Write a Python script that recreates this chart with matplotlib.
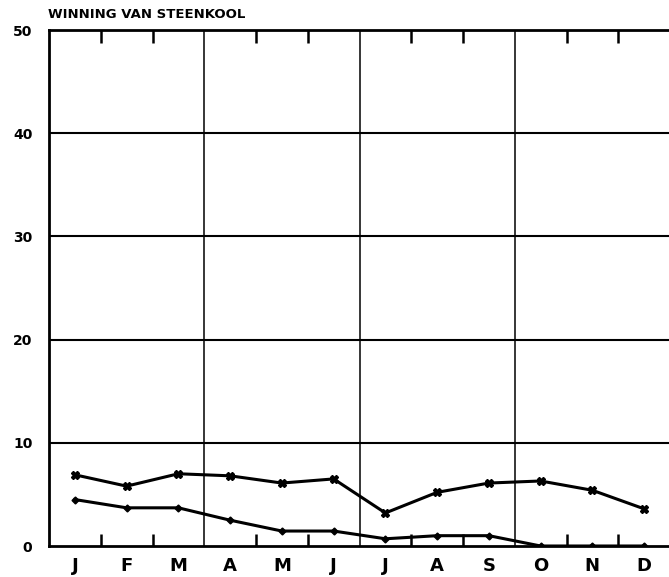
import matplotlib
matplotlib.use('Agg')
import matplotlib.pyplot as plt
import numpy as np

months = ['J', 'F', 'M', 'A', 'M', 'J', 'J', 'A', 'S', 'O', 'N', 'D']
upper = [6.9, 5.8, 7.0, 6.8, 6.1, 6.5, 3.2, 5.2, 6.1, 6.3, 5.4, 3.6]
lower = [4.5, 3.7, 3.7, 2.5, 1.45, 1.45, 0.7, 1.0, 1.0, 0.0, 0.0, 0.0]
y_ticks = [0, 10, 20, 30, 40, 50]
title = 'WINNING VAN STEENKOOL'

fig = plt.figure(figsize=(6.69, 5.77), dpi=100)
ax = fig.add_axes([49 / 669, 31 / 577, 621 / 669, 516 / 577])

x = np.arange(len(months))
ax.plot(x, upper, color='black', linewidth=2.2, marker='X', markersize=6)
ax.plot(x, lower, color='black', linewidth=2.2, marker='D', markersize=3.5)

ax.set_xlim(-0.5, 11.5)
ax.set_ylim(0, 50)

for yv in y_ticks[1:-1]:
    ax.axhline(yv, color='black', linewidth=1.5)
for xv in [2.5, 5.5, 8.5]:
    ax.axvline(xv, color='black', linewidth=1.1)

ax.set_xticks(x)
ax.set_xticklabels(months, fontsize=13, fontweight='bold')
ax.tick_params(axis='x', which='major', length=0, pad=8)
ax.set_xticks([i + 0.5 for i in range(11) if (i + 1) % 3 != 0], minor=True)
ax.tick_params(axis='x', which='minor', direction='in', length=9, width=1.8,
               top=True, bottom=True)

ax.set_yticks(y_ticks)
ax.set_yticklabels([str(v) for v in y_ticks], fontsize=10, fontweight='bold')
ax.tick_params(axis='y', length=0, pad=12)

for s in ax.spines.values():
    s.set_linewidth(2)

fig.text(48 / 669, 1 - 14 / 577, title, fontsize=9.5, fontweight='bold',
         va='center', ha='left')

fig.savefig('out.png', dpi=100)
